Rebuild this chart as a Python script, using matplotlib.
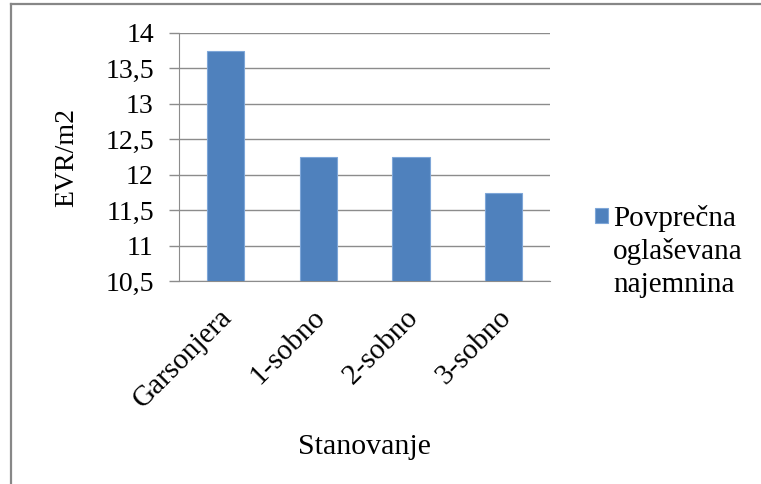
import matplotlib
matplotlib.use('Agg')
from matplotlib import pyplot as plt
from matplotlib.lines import Line2D
from matplotlib.ticker import FuncFormatter
from matplotlib.transforms import ScaledTranslation

categories = ['Garsonjera', '1-sobno', '2-sobno', '3-sobno']
values = [13.75, 12.25, 12.25, 11.75]
series_lines = ['Povprečna', 'oglaševana', 'najemnina']
y_ticks = [10.5, 11, 11.5, 12, 12.5, 13, 13.5, 14]

plt.rcParams['font.family'] = ['Liberation Serif', 'DejaVu Serif']

fig = plt.figure(figsize=(7.61, 4.84), dpi=100)
ax = fig.add_axes([0.235, 0.419, 0.488, 0.513])

bar_color = '#4f81bd'
bars = ax.bar(range(len(categories)), values, width=0.4, bottom=0,
              color=bar_color, edgecolor='#7ea6d8', linewidth=0.8, zorder=3)

ax.set_ylim(10.5, 14)
ax.set_xlim(-0.5, len(categories) - 0.5)
ax.set_yticks(y_ticks)
ax.yaxis.set_major_formatter(FuncFormatter(lambda v, p: f'{v:g}'.replace('.', ',')))
ax.grid(axis='y', color='#8c8c8c', linewidth=1.0, zorder=0)

ax.set_xticks(range(len(categories)))
ax.set_xticklabels(categories, rotation=45, ha='right', va='center',
                   rotation_mode='anchor', fontsize=21)
ax.tick_params(axis='x', length=0, pad=23)
ax.tick_params(axis='y', length=7, width=1, color='#8c8c8c', pad=11, labelsize=20)
shift = ScaledTranslation(3 / 100, 0, fig.dpi_scale_trans)
for lab in ax.get_xticklabels():
    lab.set_transform(lab.get_transform() + shift)

for s in ['top', 'right']:
    ax.spines[s].set_visible(False)
ax.spines['left'].set_color('#8c8c8c')
ax.spines['bottom'].set_color('#8c8c8c')

ax.set_ylabel('EVR/m2', fontsize=20, labelpad=19)
ax.set_xlabel('Stanovanje', fontsize=21.5, labelpad=15)

leg = fig.legend(handles=[bars], labels=[series_lines[0]], loc='upper left',
                 bbox_to_anchor=(0.782, 0.577), frameon=False, fontsize=21,
                 handlelength=0.45, handleheight=0.45, handletextpad=0.17,
                 borderaxespad=0, borderpad=0)

# rest of the wrapped legend label, one line each under the first line
fig.canvas.draw()
tb = leg.get_texts()[0].get_window_extent()
baseline = tb.y0 + 6
for i, line in enumerate(series_lines[1:], start=1):
    fig.text(tb.x0 / fig.bbox.width, (baseline - 33 * i) / fig.bbox.height,
             line, fontsize=21, va='baseline', ha='left')

# outer chart border (only top and left visible in the reference crop)
fig.add_artist(Line2D([11 / 761, 11 / 761], [0, 1 - 4 / 484],
                      transform=fig.transFigure, color='#878787', lw=1.6))
fig.add_artist(Line2D([11 / 761, 1], [1 - 4 / 484, 1 - 4 / 484],
                      transform=fig.transFigure, color='#878787', lw=1.6))

fig.savefig('out.png', dpi=100, facecolor='white')
